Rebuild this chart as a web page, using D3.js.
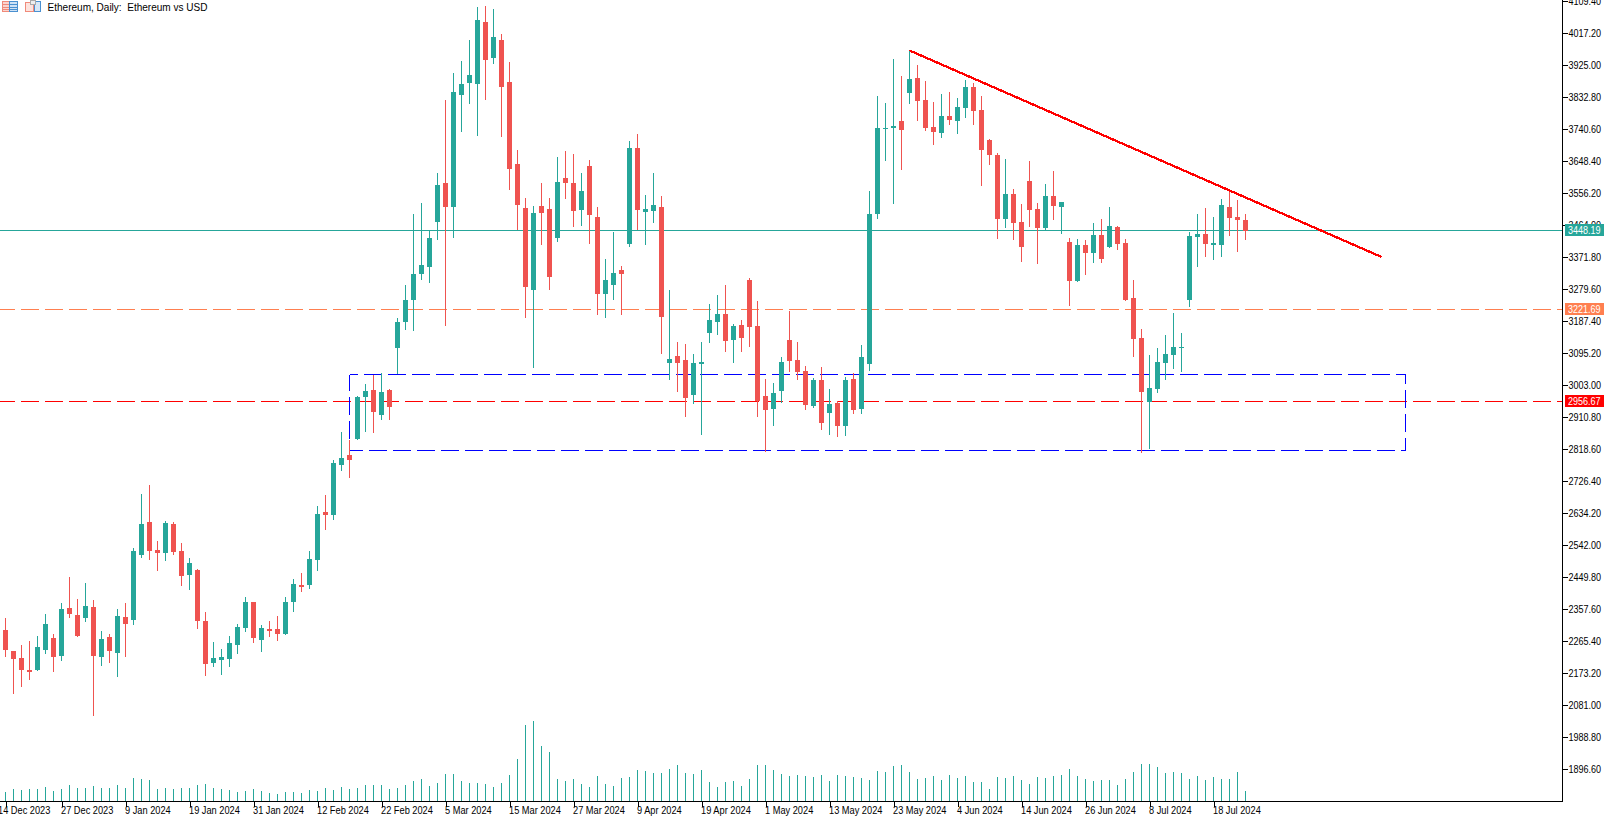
<!DOCTYPE html>
<html>
<head>
<meta charset="utf-8">
<title>Ethereum, Daily</title>
<script src="https://cdnjs.cloudflare.com/ajax/libs/d3/7.8.5/d3.min.js"></script>
<style>
  html, body { margin: 0; padding: 0; background: #fff; overflow: hidden; }
  svg { display: block; }
  .axis text, .title { font-family: "Liberation Sans", Arial, sans-serif; font-size: 11px; fill: #000; }
  .title { white-space: pre; }
  .tag { font-family: "Liberation Sans", Arial, sans-serif; font-size: 11px; fill: #fff; }
</style>
</head>
<body>
<div id="chart"></div>
<script>
var titleText = "Ethereum, Daily:  Ethereum vs USD";

var highs = [
  2334,2239,2256,2267,2282,2345,2288,2377,2452,2388,2435,2385,2296,2288,2360,2377,2535,2691,2717,2555,
  2613,2610,2550,2506,2475,2351,2265,2244,2282,2316,2394,2380,2313,2325,2339,2394,2446,2463,2527,2656,
  2688,2789,2869,2846,2973,3007,3033,3039,2993,3197,3292,3497,3528,3448,3615,3825,3902,3937,3998,4093,
  4096,4087,4015,3934,3681,3543,3520,3586,3543,3661,3678,3670,3615,3652,3517,3367,3445,3347,3707,3727,
  3551,3615,3549,3278,3128,3123,3094,3128,3238,3264,3293,3180,3192,3313,3246,3022,3010,3085,3218,3128,
  3059,3025,3056,2993,2957,3028,3039,3120,3563,3837,3816,3943,3894,3966,3926,3880,3819,3842,3848,3831,
  3883,3874,3837,3713,3672,3655,3569,3526,3649,3528,3583,3621,3531,3428,3425,3422,3471,3483,3517,3462,
  3425,3307,3166,3091,3111,3148,3212,3154,3445,3497,3514,3488,3540,3560,3537,3497
];
var lows = [
  2221,2115,2135,2155,2181,2230,2178,2210,2334,2279,2322,2051,2195,2204,2164,2221,2313,2506,2501,2469,
  2498,2515,2426,2414,2302,2167,2193,2170,2193,2230,2293,2262,2236,2279,2267,2285,2351,2409,2417,2469,
  2587,2616,2757,2737,2846,2869,2866,2904,2904,3036,3163,3160,3307,3298,3422,3174,3428,3733,3814,3721,
  3825,3929,3718,3566,3451,3197,3053,3407,3278,3416,3540,3459,3462,3410,3206,3197,3249,3206,3402,3451,
  3407,3471,3094,3019,2984,2912,2950,2861,3125,3149,3100,3068,3100,3114,2912,2812,2886,2953,3042,3019,
  2933,2938,2875,2861,2855,2858,2921,2921,3045,3482,3649,3526,3624,3814,3765,3736,3696,3716,3753,3727,
  3773,3753,3577,3638,3425,3456,3422,3358,3459,3353,3451,3479,3439,3232,3301,3321,3356,3356,3399,3393,
  3246,3085,2809,2820,2981,3019,3051,3042,3229,3344,3373,3364,3373,3434,3387,3422
];
var opens = [
  2299,2239,2218,2184,2184,2242,2276,2224,2362,2342,2334,2365,2221,2279,2233,2337,2328,2515,2610,2530,
  2521,2604,2527,2457,2472,2325,2204,2213,2216,2256,2305,2380,2270,2302,2302,2288,2380,2429,2429,2501,
  2639,2630,2774,2803,2849,2970,2990,2918,2990,3111,3186,3249,3324,3344,3474,3586,3517,3839,3874,3871,
  4050,3946,3998,3877,3641,3514,3278,3520,3511,3428,3600,3586,3508,3635,3488,3267,3292,3336,3410,3687,
  3502,3505,3517,3068,3088,3077,2976,3065,3154,3186,3209,3134,3177,3307,3174,2973,2935,2987,3134,3077,
  3045,2944,3019,2924,2953,2886,3022,2935,3065,3497,3742,3745,3765,3845,3888,3825,3747,3730,3779,3765,
  3802,3863,3796,3710,3667,3482,3554,3474,3592,3511,3456,3549,3517,3416,3304,3408,3385,3436,3402,3459,
  3413,3255,3140,2955,2993,3068,3091,3111,3249,3431,3439,3408,3408,3517,3488,3480
];
var closes = [
  2242,2216,2184,2178,2250,2316,2221,2360,2345,2282,2368,2224,2273,2239,2339,2316,2527,2604,2527,2521,
  2607,2524,2455,2492,2325,2201,2218,2221,2262,2308,2380,2276,2305,2296,2288,2380,2432,2423,2504,2633,
  2630,2780,2794,2788,2970,2987,2927,2984,2941,3186,3249,3324,3350,3428,3580,3517,3848,3871,3897,4055,
  3940,4006,3862,3626,3523,3287,3500,3500,3315,3589,3586,3505,3563,3494,3267,3307,3327,3324,3687,3508,
  3511,3523,3200,3079,3068,2967,3068,3071,3192,3209,3131,3174,3140,3172,2958,2933,2981,3071,3074,3042,
  2947,3019,2895,2950,2886,3019,2933,3085,3497,3745,3745,3750,3739,3886,3822,3745,3733,3779,3767,3805,
  3863,3793,3681,3667,3482,3554,3471,3402,3508,3456,3549,3520,3531,3304,3408,3385,3436,3367,3462,3411,
  3249,3137,2984,2996,3071,3094,3114,3114,3434,3439,3411,3413,3523,3485,3480,3448
];
var volumes = [
  27,36,33,36,36,42,30,36,48,39,39,45,39,39,48,39,69,66,63,36,
  39,36,39,39,48,51,39,36,33,27,30,36,30,24,21,27,27,24,33,30,
  39,33,42,36,39,48,48,48,36,39,48,60,66,45,54,81,81,60,54,54,
  51,42,54,78,126,228,240,165,147,66,60,66,51,42,75,51,45,69,72,93,
  90,84,84,96,108,84,81,93,57,42,57,60,45,66,108,108,93,81,75,78,
  75,72,78,60,78,75,72,69,63,90,87,105,108,87,66,69,75,63,78,69,
  75,57,57,36,72,69,75,63,51,72,69,75,78,96,75,66,60,63,63,48,
  66,87,111,111,102,84,87,84,66,75,63,72,66,66,87,30
];

var priceTicks = [4109.4,4017.2,3925,3832.8,3740.6,3648.4,3556.2,3464,3371.8,3279.6,3187.4,3095.2,3003,2910.8,
  2818.6,2726.4,2634.2,2542,2449.8,2357.6,2265.4,2173.2,2081,1988.8,1896.6];
var dateLabels = ["14 Dec 2023","27 Dec 2023","9 Jan 2024","19 Jan 2024","31 Jan 2024","12 Feb 2024","22 Feb 2024",
  "5 Mar 2024","15 Mar 2024","27 Mar 2024","9 Apr 2024","19 Apr 2024","1 May 2024","13 May 2024","23 May 2024",
  "4 Jun 2024","14 Jun 2024","26 Jun 2024","8 Jul 2024","18 Jul 2024"];
var dateBars = [0,7,15,23,31,39,47,55,63,71,79,87,95,103,111,119,127,135,143,151];

// horizontal levels: price and colour of the tag
var levelPrices = [3448.19, 3221.69, 2956.67];
var levelColors = ["#26a69a", "#ff7f50", "#ff0000"];

// drawn objects, in bar index / price
var trendBars = [113, 172];
var trendPrices = [3968, 3373];
var boxBars = [43, 175];
var boxPrices = [3035, 2816];

var width = 1610, height = 818;
var axisX = 1562, axisY = 801;
var up = "#26a69a", down = "#ef5350", blue = "#0000ff";

var x = d3.scaleLinear().domain([0, 1]).range([5.5, 13.5]);
var y = d3.scaleLinear().domain([4017.2, 1896.6]).range([33.4, 769.4]);
var yVol = d3.scaleLinear().domain([0, 240]).range([axisY, axisY - 80]);

var svg = d3.select("#chart").append("svg")
  .attr("width", width)
  .attr("height", height);

// squeeze a text the way the terminal's narrow font does
function squeeze(sel, k) {
  sel.each(function() {
    d3.select(this)
      .attr("textLength", this.getComputedTextLength() * k)
      .attr("lengthAdjust", "spacingAndGlyphs");
  });
}

// level lines, behind the candles
svg.selectAll(".level")
  .data(levelPrices)
  .enter().append("line")
    .attr("class", "level")
    .attr("x1", 0)
    .attr("x2", axisX)
    .attr("y1", function(d) { return Math.floor(y(d)) + 0.5; })
    .attr("y2", function(d) { return Math.floor(y(d)) + 0.5; })
    .attr("stroke", function(d, i) { return levelColors[i]; })
    .attr("stroke-dasharray", function(d, i) { return i == 0 ? null : "18,6"; })
    .attr("stroke-dashoffset", 3)
    .attr("shape-rendering", "crispEdges");

// dashed box, each side has its own dash phase
var boxL = x(boxBars[0]), boxR = x(boxBars[1]);
var boxT = Math.floor(y(boxPrices[0])) + 0.5, boxB = Math.floor(y(boxPrices[1])) + 0.5;
var sides = [
  {x1: boxL, y1: boxT, x2: boxR, y2: boxT, off: 9.5},
  {x1: boxL, y1: boxB, x2: boxR, y2: boxB, off: 4.5},
  {x1: boxL, y1: boxT, x2: boxL, y2: boxB, off: 1.6},
  {x1: boxR, y1: boxT, x2: boxR, y2: boxB, off: 8.3}
];
svg.selectAll(".box")
  .data(sides)
  .enter().append("line")
    .attr("class", "box")
    .attr("x1", function(d) { return d.x1; })
    .attr("y1", function(d) { return d.y1; })
    .attr("x2", function(d) { return d.x2; })
    .attr("y2", function(d) { return d.y2; })
    .attr("stroke", blue)
    .attr("stroke-dasharray", "18,6")
    .attr("stroke-dashoffset", function(d) { return d.off; })
    .attr("shape-rendering", "crispEdges");

// trend line
svg.append("line")
  .attr("x1", x(trendBars[0]))
  .attr("y1", y(trendPrices[0]))
  .attr("x2", x(trendBars[1]))
  .attr("y2", y(trendPrices[1]))
  .attr("stroke", "#ff0000")
  .attr("stroke-width", 2.3)
  .attr("shape-rendering", "crispEdges");

// volume
svg.selectAll(".vol")
  .data(volumes)
  .enter().append("rect")
    .attr("class", "vol")
    .attr("x", function(d, i) { return x(i) - 0.5; })
    .attr("y", function(d) { return Math.round(yVol(d)); })
    .attr("width", 1)
    .attr("height", function(d) { return axisY - Math.round(yVol(d)); })
    .attr("fill", up)
    .attr("shape-rendering", "crispEdges");

// candles
var candle = svg.selectAll(".candle")
  .data(opens)
  .enter().append("g")
    .attr("class", "candle")
    .attr("shape-rendering", "crispEdges")
    .attr("fill", function(d, i) { return closes[i] >= d ? up : down; });

candle.append("rect")
  .attr("x", function(d, i) { return x(i) - 0.5; })
  .attr("y", function(d, i) { return Math.round(y(highs[i])); })
  .attr("width", 1)
  .attr("height", function(d, i) { return Math.round(y(lows[i])) - Math.round(y(highs[i])); });

candle.append("rect")
  .attr("x", function(d, i) { return x(i) - 2.5; })
  .attr("y", function(d, i) { return Math.round(y(Math.max(d, closes[i]))); })
  .attr("width", 5)
  .attr("height", function(d, i) {
    return Math.max(1, Math.round(y(Math.min(d, closes[i]))) - Math.round(y(Math.max(d, closes[i]))));
  });

// price axis
var yAxis = svg.append("g")
  .attr("class", "axis")
  .attr("transform", "translate(" + (axisX + 0.5) + ",0)")
  .call(d3.axisRight(y).tickValues(priceTicks).tickFormat(d3.format(".2f")).tickSize(5).tickPadding(1));
yAxis.select(".domain").remove();
squeeze(yAxis.selectAll("text"), 0.82);

// time axis
var xAxis = svg.append("g")
  .attr("class", "axis")
  .attr("transform", "translate(0," + (axisY + 0.5) + ")")
  .call(d3.axisBottom(x)
    .tickValues(dateBars)
    .tickFormat(function(d) { return dateLabels[dateBars.indexOf(d)]; })
    .tickSize(5)
    .tickPadding(0));
xAxis.select(".domain").remove();
xAxis.selectAll("text")
  .attr("text-anchor", "start")
  .attr("x", function(d) { return d == 0 ? -8 : -1; })
  .attr("y", 5);
squeeze(xAxis.selectAll("text"), 0.84);

svg.selectAll(".axis line").attr("stroke", "#000").attr("shape-rendering", "crispEdges");

svg.append("line").attr("x1", axisX + 0.5).attr("x2", axisX + 0.5).attr("y1", 0).attr("y2", axisY + 1)
  .attr("stroke", "#000").attr("shape-rendering", "crispEdges");
svg.append("line").attr("x1", 0).attr("x2", axisX + 1).attr("y1", axisY + 0.5).attr("y2", axisY + 0.5)
  .attr("stroke", "#000").attr("shape-rendering", "crispEdges");

// price tags on the axis
svg.selectAll(".tagBox")
  .data(levelPrices)
  .enter().append("rect")
    .attr("class", "tagBox")
    .attr("x", 1565)
    .attr("y", function(d) { return Math.floor(y(d)) - 6; })
    .attr("width", 39)
    .attr("height", 12)
    .attr("fill", function(d, i) { return levelColors[i]; });

var tags = svg.selectAll(".tag")
  .data(levelPrices)
  .enter().append("text")
    .attr("class", "tag")
    .attr("x", 1568)
    .attr("y", function(d) { return Math.floor(y(d)) + 4; })
    .text(function(d) { return d3.format(".2f")(d); });
squeeze(tags, 0.82);

// header with the two small icons
var icons = svg.append("g").attr("shape-rendering", "crispEdges");
icons.append("rect").attr("x", 2.5).attr("y", 1.5).attr("width", 7).attr("height", 10).attr("fill", "#fbd5cf").attr("stroke", "#f08a7a");
icons.append("rect").attr("x", 9.5).attr("y", 1.5).attr("width", 8).attr("height", 10).attr("fill", "#cfe2f5").attr("stroke", "#4a90d0");
[4, 7, 9].forEach(function(t) {
  icons.append("line").attr("x1", 3).attr("x2", 9).attr("y1", t + 0.5).attr("y2", t + 0.5).attr("stroke", "#f08a7a");
  icons.append("line").attr("x1", 10).attr("x2", 17).attr("y1", t + 0.5).attr("y2", t + 0.5).attr("stroke", "#4a90d0");
});
icons.append("rect").attr("x", 25.5).attr("y", 2.5).attr("width", 8).attr("height", 9).attr("fill", "#fde3dd").attr("stroke", "#f08a7a");
icons.append("rect").attr("x", 34.5).attr("y", 1.5).attr("width", 6).attr("height", 10).attr("fill", "#d8e8f7").attr("stroke", "#4a90d0");
icons.append("rect").attr("x", 30.5).attr("y", 0.5).attr("width", 5).attr("height", 4).attr("fill", "#eee").attr("stroke", "#aaa");

svg.append("text")
  .attr("class", "title")
  .attr("x", 47.5)
  .attr("y", 10.5)
  .text(titleText)
  .attr("textLength", 160)
  .attr("lengthAdjust", "spacingAndGlyphs");
</script>
</body>
</html>
